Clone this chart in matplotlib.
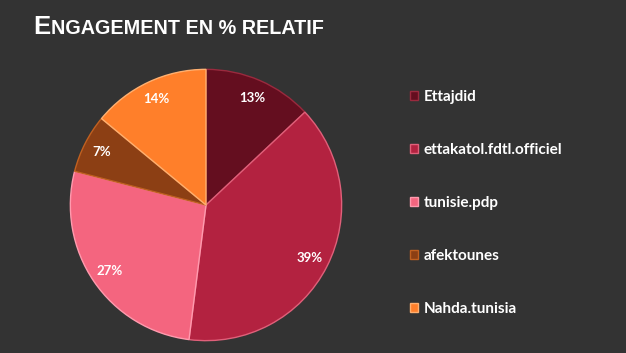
import matplotlib.pyplot as plt
from matplotlib.patches import Patch

# Data
labels = ['Ettajdid', 'ettakatol.fdtl.officiel', 'tunisie.pdp', 'afektounes', 'Nahda.tunisia']
shares = [13, 39, 27, 7, 14]
colors = ['#640E1F', '#B32240', '#F4657F', '#8C3F14', '#FF7F2A']
edges = ['#9A2A3E', '#E0607A', '#FF9AAE', '#C06020', '#FFB070']

bg = '#333333'

fig = plt.figure(figsize=(6.26, 3.53), dpi=100, facecolor=bg)

# pie: center ~ (206, 205) px, radius ~137 px
ax = fig.add_axes([69 / 626, (353 - 205 - 137) / 353, 274 / 626, 274 / 353])
ax.set_facecolor(bg)
wedges, texts, autotexts = ax.pie(
    shares, colors=colors, startangle=90, counterclock=False,
    autopct='%d%%', pctdistance=0.86,
    wedgeprops=dict(linewidth=1.0),
    textprops=dict(color='white', fontsize=9.5, fontweight='bold', family='Lato'))
for w, ec in zip(wedges, edges):
    w.set_edgecolor(ec)
ax.set_xlim(-1.01, 1.01)
ax.set_ylim(-1.01, 1.01)
ax.set_aspect('equal')
ax.axis('off')

# title in small caps
renderer = fig.canvas.get_renderer()
t1 = fig.text(33 / 626, 1 - 34 / 353, 'E', color='white', fontsize=18.5,
              fontweight='bold', family='Liberation Sans', va='baseline')
bb = t1.get_window_extent(renderer)
fig.text(bb.x1 / 626 + 0.5 / 626, 1 - 34 / 353, 'NGAGEMENT EN % RELATIF', color='white',
         fontsize=14.2, fontweight='bold', family='Liberation Sans', va='baseline')

# legend
handles = [Patch(facecolor=c, edgecolor=e, linewidth=1) for c, e in zip(colors, edges)]
leg = fig.legend(handles, labels, loc='upper left', bbox_to_anchor=(396 / 626, 1 - 76 / 353),
                 frameon=False, labelspacing=2.55, handlelength=0.55, handleheight=0.55,
                 handletextpad=0.35, prop=dict(family='Lato', weight='bold', size=11))
for txt in leg.get_texts():
    txt.set_color('white')

fig.savefig('out.png', dpi=100, facecolor=bg)
